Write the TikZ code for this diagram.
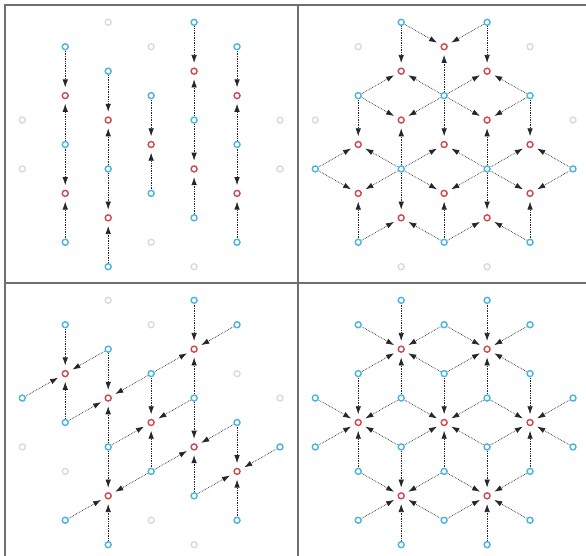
\documentclass[tikz,border=0pt]{standalone}
\usepackage{tikz}
\usetikzlibrary{arrows.meta}
\definecolor{srcblue}{RGB}{72,180,224}
\definecolor{dstred}{RGB}{206,72,78}
\definecolor{idlegray}{RGB}{218,218,218}
\definecolor{framegray}{RGB}{110,110,110}

% place a list of lattice sites (col/row) of one panel
\newcommand{\putsites}[3]{%
  \foreach \i/\j in {#3}
    \node[#2] (#1-\i-\j) at ({22.3+42.95*\i},{22.3+24.44*\j}) {};}
% arrows into every red site from the given neighbour offsets
\newcommand{\flows}[3]{%
  \foreach \i/\j in {#2}
    \foreach \di/\dj in {#3} {
      \pgfmathtruncatemacro{\si}{\i+\di}
      \pgfmathtruncatemacro{\sj}{\j+\dj}
      \draw[flow] (#1-\si-\sj) -- (#1-\i-\j);
    }}

\begin{document}
\begin{tikzpicture}[
  x=1pt, y=-1pt,
  site/.style={circle, draw, line width=1.4pt, inner sep=0pt, minimum size=6pt},
  idle/.style={site, draw=idlegray},
  src/.style={site, draw=srcblue},
  dst/.style={site, draw=dstred},
  flow/.style={-{Latex[length=8pt,width=5.5pt]}, densely dotted, line width=0.7pt, black!85, shorten >=4.5pt, shorten <=0.5pt},
  frame/.style={draw=framegray, line width=2pt},
  ]
  \useasboundingbox (0,0) rectangle (586,556);

  % panel frames
  \draw[frame] (4.5,556) -- (4.5,4.7) -- (586,4.7);
  \draw[frame] (297.5,4.7) -- (297.5,556);
  \draw[frame] (4.5,282.7) -- (586,282.7);

  % top left: vertical pairs
  \begin{scope}
    \putsites{a}{idle}{0/4,0/6,2/0,3/1,3/9,4/10,6/4,6/6}
    \putsites{a}{src}{1/1,1/5,1/9,2/2,2/6,2/10,3/3,3/7,4/0,4/4,4/8,5/1,5/5,5/9}
    \putsites{a}{dst}{1/3,1/7,2/4,2/8,3/5,4/2,4/6,5/3,5/7}
    \flows{a}{1/3,1/7,2/4,2/8,3/5,4/2,4/6,5/3,5/7}{0/-2,0/2}
  \end{scope}

  % top right: three-way joins
  \begin{scope}[shift={(293,0)}]
    \putsites{b}{idle}{1/1,5/1,0/4,6/4,2/10,4/10}
    \putsites{b}{src}{2/0,4/0,1/3,3/3,5/3,0/6,2/6,4/6,6/6,1/9,3/9,5/9}
    \putsites{b}{dst}{3/1,2/2,4/2,2/4,4/4,1/5,3/5,5/5,1/7,3/7,5/7,2/8,4/8}
    \flows{b}{3/1,2/4,4/4,1/7,3/7,5/7}{-1/-1,1/-1,0/2}
    \flows{b}{2/2,4/2,1/5,3/5,5/5,2/8,4/8}{0/-2,-1/1,1/1}
  \end{scope}

  % bottom left: four-way joins
  \begin{scope}[shift={(0,278)}]
    \putsites{c}{idle}{2/0,3/1,5/3,6/4,0/6,1/7,3/9,4/10}
    \putsites{c}{src}{4/0,1/1,5/1,2/2,3/3,0/4,4/4,1/5,5/5,2/6,6/6,3/7,4/8,1/9,5/9,2/10}
    \putsites{c}{dst}{4/2,1/3,2/4,3/5,4/6,5/7,2/8}
    \flows{c}{4/2,1/3,2/4,3/5,4/6,5/7,2/8}{0/-2,0/2,1/-1,-1/1}
  \end{scope}

  % bottom right: six-way joins
  \begin{scope}[shift={(293,278)}]
    \putsites{d}{src}{2/0,4/0,1/1,3/1,5/1,1/3,3/3,5/3,0/4,2/4,4/4,6/4,0/6,2/6,4/6,6/6,1/7,3/7,5/7,1/9,3/9,5/9,2/10,4/10}
    \putsites{d}{dst}{2/2,4/2,1/5,3/5,5/5,2/8,4/8}
    \flows{d}{2/2,4/2,1/5,3/5,5/5,2/8,4/8}{0/-2,0/2,-1/-1,1/-1,-1/1,1/1}
  \end{scope}
\end{tikzpicture}
\end{document}
